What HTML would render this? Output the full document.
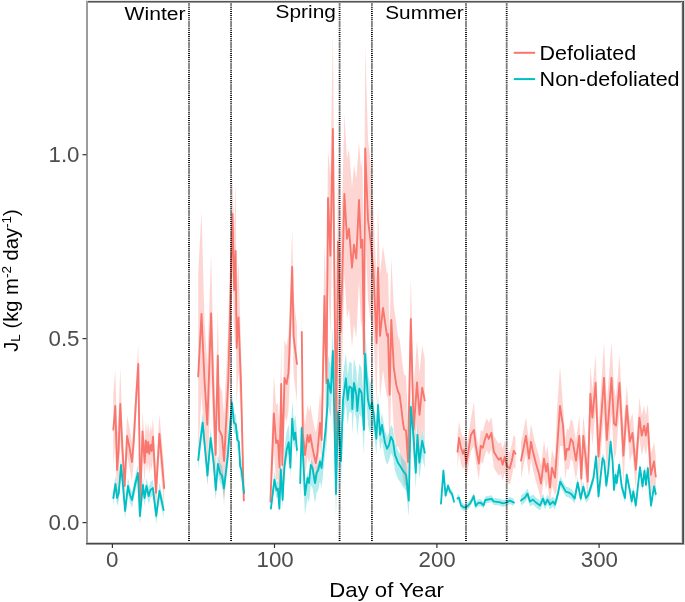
<!DOCTYPE html>
<html><head><meta charset="utf-8">
<style>
html,body{margin:0;padding:0;background:#fff;}
body{width:685px;height:602px;overflow:hidden;position:relative;}
svg{position:absolute;left:0;top:0;will-change:transform;}
text{font-family:"Liberation Sans",sans-serif;}
.dot{stroke:#000;stroke-width:1.8;stroke-dasharray:1 1.1;fill:none;}
.tk{fill:#4d4d4d;font-size:22.3px;}
</style></head><body>
<svg width="685" height="602" viewBox="0 0 685 602">
<g id="data">
<g fill="#F8766D" fill-opacity="0.3" stroke="none">
<polygon points="113.3,393.5 115.3,370.0 117.1,434.0 118.6,414.0 120.3,368.0 122.5,430.0 124.6,466.0 127.1,416.0 129.6,428.0 132.0,442.0 133.8,420.0 135.7,385.0 138.3,344.0 140.3,483.0 142.5,411.4 144.7,442.8 145.8,420.4 147.0,432.4 148.2,422.0 149.2,433.9 150.7,425.0 151.8,431.0 153.0,416.7 156.0,472.7 159.4,413.7 164.2,468.2 164.2,508.2 159.4,453.7 156.0,512.7 153.0,456.7 151.8,471.0 150.7,465.0 149.2,473.9 148.2,462.0 147.0,472.4 145.8,460.4 144.7,482.8 142.5,451.4 140.3,523.0 138.3,384.0 135.7,425.0 133.8,460.0 132.0,482.0 129.6,468.0 127.1,456.0 124.6,506.0 122.5,470.0 120.3,440.0 118.6,486.0 117.1,506.0 115.3,442.0 113.3,465.5"/>
<polygon points="198.2,273.4 201.5,211.0 204.5,320.0 207.3,364.6 211.1,253.3 213.2,342.0 215.6,409.8 217.8,310.6 219.2,385.0 222.0,391.0 224.1,416.0 228.3,325.0 232.5,174.0 234.2,235.0 235.6,181.0 236.6,293.0 238.5,262.4 241.0,345.0 243.8,475.4 243.8,508.4 241.0,415.0 238.5,372.4 236.6,403.0 235.6,306.0 234.2,345.0 232.5,269.0 228.3,435.0 224.1,506.0 222.0,481.0 219.2,475.0 217.8,400.6 215.6,499.8 213.2,432.0 211.1,373.3 207.3,484.6 204.5,440.0 201.5,394.0 198.2,456.4"/>
<polygon points="270.4,471.6 273.9,375.5 276.1,405.0 277.9,402.5 279.6,429.6 281.2,346.0 282.3,427.0 284.5,340.0 286.6,346.0 288.4,335.4 289.3,317.0 292.2,228.8 293.6,298.6 297.0,326.0 297.0,402.0 293.6,374.6 292.2,304.8 289.3,393.0 288.4,411.4 286.6,422.0 284.5,416.0 282.3,503.0 281.2,422.0 279.6,505.6 277.9,478.5 276.1,481.0 273.9,451.5 270.4,505.6"/>
<polygon points="301.8,302.0 302.8,403.0 305.0,425.0 307.5,405.0 309.0,412.0 310.3,405.0 312.5,418.0 314.0,425.0 315.8,433.0 317.4,423.0 320.0,393.0 321.6,410.0 324.5,246.0 326.5,303.0 328.0,150.0 330.4,175.7 332.9,31.0 336.2,392.0 337.9,161.7 340.6,252.0 342.2,200.0 344.4,114.0 347.0,158.7 349.0,148.8 352.0,187.6 354.0,164.7 356.3,178.6 359.0,142.0 361.0,167.7 362.3,159.7 364.0,274.0 365.2,45.4 368.0,140.0 370.3,158.7 373.3,206.3 376.6,281.0 378.0,205.7 380.0,273.9 383.0,246.0 387.0,273.9 388.0,272.0 389.6,332.8 391.3,258.0 393.8,306.0 396.3,323.0 398.0,336.5 399.6,339.8 401.3,353.0 403.0,368.0 404.2,374.7 406.0,375.5 408.0,420.0 410.8,277.0 413.7,387.7 417.0,340.4 419.5,372.8 422.2,345.6 424.8,358.6 424.8,440.6 422.2,427.6 419.5,454.8 417.0,422.4 413.7,469.7 410.8,359.0 408.0,502.0 406.0,485.5 404.2,484.7 403.0,478.0 401.3,463.0 399.6,449.8 398.0,446.5 396.3,447.0 393.8,430.0 391.3,382.0 389.6,456.8 388.0,396.0 387.0,397.9 383.0,370.0 380.0,397.9 378.0,329.7 376.6,405.0 373.3,330.3 370.3,318.7 368.0,300.0 365.2,228.4 364.0,434.0 362.3,319.7 361.0,327.7 359.0,280.0 356.3,338.6 354.0,324.7 352.0,347.6 349.0,308.8 347.0,318.7 344.4,274.0 342.2,360.0 340.6,412.0 337.9,321.7 336.2,462.0 332.9,209.0 330.4,335.7 328.0,278.0 326.5,463.0 324.5,346.0 321.6,462.0 320.0,445.0 317.4,475.0 315.8,485.0 314.0,477.0 312.5,470.0 310.3,457.0 309.0,464.0 307.5,457.0 305.0,477.0 302.8,455.0 301.8,354.0"/>
<polygon points="457.5,435.8 459.0,421.8 461.0,431.8 463.0,437.8 464.3,433.8 466.3,447.7 468.0,437.8 470.9,418.9 473.9,401.9 475.8,429.8 478.8,447.7 480.8,429.8 482.8,431.8 484.8,423.8 486.8,417.9 488.8,422.8 491.4,416.9 493.8,435.8 496.8,440.8 498.8,443.8 500.8,441.8 502.7,448.7 504.7,440.8 506.7,449.7 509.7,452.7 512.0,443.8 513.7,434.8 515.5,437.8 515.5,469.8 513.7,466.8 512.0,475.8 509.7,484.7 506.7,481.7 504.7,472.8 502.7,480.7 500.8,473.8 498.8,475.8 496.8,472.8 493.8,467.8 491.4,448.9 488.8,454.8 486.8,449.9 484.8,455.8 482.8,463.8 480.8,461.8 478.8,479.7 475.8,461.8 473.9,445.9 470.9,450.9 468.0,469.8 466.3,479.7 464.3,465.8 463.0,469.8 461.0,463.8 459.0,453.8 457.5,467.8"/>
<polygon points="521.0,442.7 523.6,429.8 526.0,417.8 529.0,440.7 531.0,423.8 533.0,433.8 536.0,445.7 539.0,455.7 541.0,465.6 544.0,440.7 546.0,453.7 547.5,445.7 550.0,469.6 552.0,449.7 555.0,459.6 557.0,409.8 560.0,366.0 563.0,405.9 565.4,439.7 566.8,428.8 568.8,429.8 570.8,418.8 572.8,421.8 576.0,440.7 579.3,415.8 581.3,458.6 583.3,415.8 585.7,437.7 587.7,461.6 590.4,365.7 592.4,389.6 595.6,354.8 598.5,428.5 604.0,341.8 606.8,404.0 611.5,341.8 614.0,387.6 616.0,397.6 619.5,354.8 623.4,427.7 626.8,385.7 629.8,421.6 632.5,413.0 635.8,449.8 639.4,397.6 641.8,415.6 644.2,405.6 645.8,415.6 647.8,403.6 650.8,454.8 654.0,441.5 655.8,456.5 655.8,496.5 654.0,481.5 650.8,494.8 647.8,443.6 645.8,455.6 644.2,445.6 641.8,455.6 639.4,437.6 635.8,489.8 632.5,453.0 629.8,461.6 626.8,425.7 623.4,483.7 619.5,410.8 616.0,453.6 614.0,459.6 611.5,413.8 606.8,476.0 604.0,413.8 598.5,484.5 595.6,410.8 592.4,445.6 590.4,421.7 587.7,501.6 585.7,477.7 583.3,455.8 581.3,498.6 579.3,455.8 576.0,480.7 572.8,461.8 570.8,458.8 568.8,469.8 566.8,468.8 565.4,479.7 563.0,445.9 560.0,446.0 557.0,489.8 555.0,495.6 552.0,485.7 550.0,505.6 547.5,481.7 546.0,489.7 544.0,476.7 541.0,501.6 539.0,491.7 536.0,481.7 533.0,469.8 531.0,459.8 529.0,476.7 526.0,453.8 523.6,465.8 521.0,478.7"/>
</g>
<g fill="#00BFC4" fill-opacity="0.3" stroke="none">
<polygon points="113.3,490.0 115.5,476.0 117.1,490.0 118.8,485.0 121.0,457.0 123.0,478.0 125.1,503.0 128.0,478.0 130.0,487.0 132.0,492.0 135.0,477.0 137.9,465.0 139.9,508.0 142.9,477.0 144.5,490.0 146.5,478.0 148.7,488.0 150.5,482.0 152.9,480.0 156.2,508.0 159.5,483.0 163.6,502.0 163.6,518.0 159.5,499.0 156.2,524.0 152.9,496.0 150.5,498.0 148.7,504.0 146.5,494.0 144.5,506.0 142.9,493.0 139.9,524.0 137.9,481.0 135.0,493.0 132.0,508.0 130.0,503.0 128.0,494.0 125.1,519.0 123.0,494.0 121.0,473.0 118.8,501.0 117.1,506.0 115.5,492.0 113.3,506.0"/>
<polygon points="198.2,450.0 200.2,432.3 202.7,412.6 204.4,432.0 207.5,465.5 210.6,428.0 213.7,453.0 215.8,480.0 217.9,454.0 220.0,463.0 222.0,465.5 224.0,478.5 227.7,447.0 230.6,408.7 232.0,393.0 233.9,412.5 235.8,414.4 237.3,429.7 238.8,431.6 240.2,456.5 241.5,460.0 244.0,483.0 244.0,503.0 241.5,480.0 240.2,476.5 238.8,451.6 237.3,449.7 235.8,434.4 233.9,432.5 232.0,413.0 230.6,428.7 227.7,467.0 224.0,498.5 222.0,485.5 220.0,483.0 217.9,474.0 215.8,500.0 213.7,473.0 210.6,448.0 207.5,485.5 204.4,452.0 202.7,432.6 200.2,452.3 198.2,470.0"/>
<polygon points="270.9,502.6 274.4,471.8 276.5,482.3 277.9,480.5 279.4,498.6 280.8,461.3 282.6,491.9 284.3,449.6 286.6,432.0 288.7,424.3 290.4,449.6 292.2,400.7 293.9,421.7 295.3,414.7 297.0,432.0 297.0,460.0 295.3,442.7 293.9,449.7 292.2,428.7 290.4,477.6 288.7,452.3 286.6,460.0 284.3,477.6 282.6,507.9 280.8,477.3 279.4,512.6 277.9,496.5 276.5,498.3 274.4,487.8 270.9,511.6"/>
<polygon points="300.2,477.0 301.7,422.0 305.0,489.0 307.5,472.0 309.0,477.0 310.8,459.0 312.5,462.0 315.0,477.0 316.6,467.0 318.3,464.0 320.0,455.5 321.6,462.0 324.0,439.0 325.7,422.0 327.4,381.6 327.9,354.4 330.8,367.8 332.9,325.9 336.0,469.0 338.0,387.0 341.0,436.0 343.0,375.0 345.9,353.3 347.7,375.0 349.4,361.4 351.7,363.0 352.3,384.0 354.0,358.0 356.4,370.0 357.3,386.0 359.3,363.7 361.6,368.0 364.0,404.8 365.1,328.8 368.0,375.0 370.0,384.0 372.0,378.0 374.0,405.0 376.4,426.8 378.0,393.0 380.0,422.8 382.0,413.0 385.0,430.8 387.0,436.8 389.0,432.8 391.0,424.8 393.0,428.8 395.0,442.8 398.0,450.7 400.0,453.7 403.0,458.7 406.0,462.7 408.8,488.6 410.8,395.0 413.4,422.8 415.8,460.7 417.4,422.8 419.4,450.7 422.2,428.8 424.8,440.8 424.8,468.8 422.2,456.8 419.4,478.7 417.4,450.8 415.8,488.7 413.4,450.8 410.8,423.0 408.8,516.6 406.0,490.7 403.0,486.7 400.0,481.7 398.0,478.7 395.0,470.8 393.0,456.8 391.0,452.8 389.0,460.8 387.0,464.8 385.0,458.8 382.0,441.0 380.0,450.8 378.0,421.0 376.4,454.8 374.0,433.0 372.0,428.0 370.0,434.0 368.0,425.0 365.1,378.8 364.0,454.8 361.6,418.0 359.3,413.7 357.3,436.0 356.4,420.0 354.0,408.0 352.3,434.0 351.7,413.0 349.4,411.4 347.7,425.0 345.9,403.3 343.0,425.0 341.0,486.0 338.0,437.0 336.0,519.0 332.9,375.9 330.8,417.8 327.9,404.4 327.4,431.6 325.7,448.0 324.0,465.0 321.6,488.0 320.0,481.5 318.3,490.0 316.6,493.0 315.0,503.0 312.5,488.0 310.8,485.0 309.0,503.0 307.5,498.0 305.0,515.0 301.7,448.0 300.2,503.0"/>
<polygon points="441.0,500.1 443.4,467.2 445.6,492.1 448.0,482.2 450.0,488.1 452.0,490.1 454.0,498.1 454.0,505.1 452.0,497.1 450.0,495.1 448.0,489.2 445.6,499.1 443.4,474.2 441.0,507.1"/>
<polygon points="457.5,495.1 459.0,494.1 461.0,502.1 464.0,504.1 467.0,503.1 470.0,500.1 472.0,496.5 473.7,492.5 475.7,502.5 478.0,499.5 480.7,499.2 483.6,501.8 485.3,496.5 491.5,495.3 493.7,497.9 497.0,498.3 500.0,498.8 503.0,499.9 506.0,499.1 510.0,497.1 514.0,499.1 514.0,506.1 510.0,504.1 506.0,506.1 503.0,506.9 500.0,505.8 497.0,505.3 493.7,504.9 491.5,502.3 485.3,503.5 483.6,508.8 480.7,506.2 478.0,506.5 475.7,509.5 473.7,499.5 472.0,503.5 470.0,507.1 467.0,510.1 464.0,511.1 461.0,509.1 459.0,501.1 457.5,502.1"/>
<polygon points="521.0,495.6 525.0,492.6 527.5,488.6 530.0,496.6 533.0,494.6 536.0,497.6 540.0,500.5 543.0,493.6 545.0,499.5 547.5,494.6 550.0,499.5 553.0,496.6 555.0,499.5 558.0,488.6 560.2,476.6 563.0,481.6 565.8,486.6 568.8,487.6 571.8,489.6 574.7,493.6 577.7,477.6 580.7,493.6 583.3,481.6 586.0,493.0 588.5,489.8 591.0,481.4 593.5,473.0 596.0,451.5 598.5,491.4 601.0,468.2 602.6,453.2 604.3,456.5 606.3,480.6 608.4,464.8 610.6,436.6 612.6,456.5 614.0,484.8 615.6,469.8 616.7,478.0 619.2,459.8 621.7,481.4 625.0,493.0 626.7,469.8 630.0,486.4 631.7,496.4 633.3,486.4 635.8,500.5 640.0,462.3 642.5,481.4 644.5,465.7 646.0,479.8 647.8,463.2 651.0,500.5 654.0,481.4 655.8,489.0 655.8,499.0 654.0,491.4 651.0,510.5 647.8,473.2 646.0,489.8 644.5,475.7 642.5,491.4 640.0,472.3 635.8,510.5 633.3,496.4 631.7,506.4 630.0,496.4 626.7,479.8 625.0,503.0 621.7,491.4 619.2,469.8 616.7,488.0 615.6,479.8 614.0,494.8 612.6,466.5 610.6,446.6 608.4,474.8 606.3,490.6 604.3,466.5 602.6,463.2 601.0,478.2 598.5,501.4 596.0,461.5 593.5,483.0 591.0,491.4 588.5,499.8 586.0,503.0 583.3,491.6 580.7,503.6 577.7,487.6 574.7,503.6 571.8,499.6 568.8,497.6 565.8,496.6 563.0,491.6 560.2,486.6 558.0,498.6 555.0,509.5 553.0,506.6 550.0,509.5 547.5,504.6 545.0,509.5 543.0,503.6 540.0,510.5 536.0,507.6 533.0,504.6 530.0,506.6 527.5,498.6 525.0,502.6 521.0,505.6"/>
</g>
<g fill="none" stroke="#F8766D" stroke-width="1.85" stroke-linejoin="round" stroke-linecap="round">
<polyline points="113.3,429.5 115.3,406.0 117.1,470.0 118.6,450.0 120.3,404.0 122.5,450.0 124.6,486.0 127.1,436.0 129.6,448.0 132.0,462.0 133.8,440.0 135.7,405.0 138.3,364.0 140.3,503.0 142.5,431.4 144.7,462.8 145.8,440.4 147.0,452.4 148.2,442.0 149.2,453.9 150.7,445.0 151.8,451.0 153.0,436.7 156.0,492.7 159.4,433.7 164.2,488.2"/>
<polyline points="198.2,376.4 201.5,314.0 204.5,380.0 207.3,424.6 211.1,313.3 213.2,387.0 215.6,454.8 217.8,355.6 219.2,430.0 222.0,436.0 224.1,461.0 228.3,380.0 232.5,214.0 234.2,290.0 235.6,251.0 236.6,348.0 238.5,317.4 241.0,385.0 243.8,500.4"/>
<polyline points="270.4,501.6 273.9,413.5 276.1,443.0 277.9,440.5 279.6,467.6 281.2,384.0 282.3,465.0 284.5,378.0 286.6,384.0 288.4,373.4 289.3,355.0 292.2,266.8 293.6,336.6 297.0,364.0"/>
<polyline points="301.8,332.0 302.8,433.0 305.0,455.0 307.5,435.0 309.0,442.0 310.3,435.0 312.5,448.0 314.0,455.0 315.8,463.0 317.4,453.0 320.0,423.0 321.6,440.0 324.5,296.0 326.5,383.0 328.0,198.0 330.4,255.7 332.9,129.0 336.2,452.0 337.9,241.7 340.6,332.0 342.2,280.0 344.4,194.0 347.0,238.7 349.0,228.8 352.0,267.6 354.0,244.7 356.3,258.6 359.0,200.0 361.0,247.7 362.3,239.7 364.0,354.0 365.2,148.4 368.0,220.0 370.3,238.7 373.3,268.3 376.6,343.0 378.0,267.7 380.0,335.9 383.0,308.0 387.0,335.9 388.0,334.0 389.6,394.8 391.3,320.0 393.8,368.0 396.3,385.0 398.0,391.5 399.6,394.8 401.3,408.0 403.0,423.0 404.2,429.7 406.0,430.5 408.0,462.0 410.8,319.0 413.7,429.7 417.0,382.4 419.5,414.8 422.2,387.6 424.8,400.6"/>
<polyline points="457.5,451.8 459.0,437.8 461.0,447.8 463.0,453.8 464.3,449.8 466.3,463.7 468.0,453.8 470.9,434.9 473.9,429.9 475.8,445.8 478.8,463.7 480.8,445.8 482.8,447.8 484.8,439.8 486.8,433.9 488.8,438.8 491.4,432.9 493.8,451.8 496.8,456.8 498.8,459.8 500.8,457.8 502.7,464.7 504.7,456.8 506.7,465.7 509.7,468.7 512.0,459.8 513.7,450.8 515.5,453.8"/>
<polyline points="521.0,460.7 523.6,447.8 526.0,435.8 529.0,458.7 531.0,441.8 533.0,451.8 536.0,463.7 539.0,473.7 541.0,483.6 544.0,458.7 546.0,471.7 547.5,463.7 550.0,487.6 552.0,467.7 555.0,477.6 557.0,449.8 560.0,406.0 563.0,425.9 565.4,459.7 566.8,448.8 568.8,449.8 570.8,438.8 572.8,441.8 576.0,460.7 579.3,435.8 581.3,478.6 583.3,435.8 585.7,457.7 587.7,481.6 590.4,393.7 592.4,417.6 595.6,382.8 598.5,456.5 604.0,377.8 606.8,440.0 611.5,377.8 614.0,423.6 616.0,425.6 619.5,382.8 623.4,455.7 626.8,405.7 629.8,441.6 632.5,433.0 635.8,469.8 639.4,417.6 641.8,435.6 644.2,425.6 645.8,435.6 647.8,423.6 650.8,474.8 654.0,461.5 655.8,476.5"/>
</g>
<g fill="none" stroke="#00BFC4" stroke-width="1.85" stroke-linejoin="round" stroke-linecap="round">
<polyline points="113.3,498.0 115.5,484.0 117.1,498.0 118.8,493.0 121.0,465.0 123.0,486.0 125.1,511.0 128.0,486.0 130.0,495.0 132.0,500.0 135.0,485.0 137.9,473.0 139.9,516.0 142.9,485.0 144.5,498.0 146.5,486.0 148.7,496.0 150.5,490.0 152.9,488.0 156.2,516.0 159.5,491.0 163.6,510.0"/>
<polyline points="198.2,460.0 200.2,442.3 202.7,422.6 204.4,442.0 207.5,475.5 210.6,438.0 213.7,463.0 215.8,490.0 217.9,464.0 220.0,473.0 222.0,475.5 224.0,488.5 227.7,457.0 230.6,418.7 232.0,403.0 233.9,422.5 235.8,424.4 237.3,439.7 238.8,441.6 240.2,466.5 241.5,470.0 244.0,493.0"/>
<polyline points="270.9,508.6 274.4,479.8 276.5,490.3 277.9,488.5 279.4,508.6 280.8,469.3 282.6,499.9 284.3,467.6 286.6,450.0 288.7,442.3 290.4,467.6 292.2,418.7 293.9,439.7 295.3,432.7 297.0,450.0"/>
<polyline points="300.2,483.0 301.7,428.0 305.0,495.0 307.5,478.0 309.0,483.0 310.8,465.0 312.5,468.0 315.0,483.0 316.6,473.0 318.3,470.0 320.0,461.5 321.6,468.0 324.0,445.0 325.7,428.0 327.4,406.6 327.9,379.4 330.8,392.8 332.9,350.9 336.0,494.0 338.0,412.0 341.0,461.0 343.0,400.0 345.9,378.3 347.7,400.0 349.4,386.4 351.7,388.0 352.3,409.0 354.0,383.0 356.4,395.0 357.3,411.0 359.3,388.7 361.6,393.0 364.0,429.8 365.1,353.8 368.0,400.0 370.0,409.0 372.0,403.0 374.0,417.0 376.4,438.8 378.0,405.0 380.0,434.8 382.0,425.0 385.0,442.8 387.0,448.8 389.0,444.8 391.0,436.8 393.0,440.8 395.0,454.8 398.0,462.7 400.0,465.7 403.0,470.7 406.0,474.7 408.8,500.6 410.8,407.0 413.4,434.8 415.8,472.7 417.4,434.8 419.4,462.7 422.2,440.8 424.8,452.8"/>
<polyline points="441.0,503.6 443.4,470.7 445.6,495.6 448.0,485.7 450.0,491.6 452.0,493.6 454.0,501.6"/>
<polyline points="457.5,498.6 459.0,497.6 461.0,505.6 464.0,507.6 467.0,506.6 470.0,503.6 472.0,500.0 473.7,496.0 475.7,506.0 478.0,503.0 480.7,502.7 483.6,505.3 485.3,500.0 491.5,498.8 493.7,501.4 497.0,501.8 500.0,502.3 503.0,503.4 506.0,502.6 510.0,500.6 514.0,502.6"/>
<polyline points="521.0,500.6 525.0,497.6 527.5,493.6 530.0,501.6 533.0,499.6 536.0,502.6 540.0,505.5 543.0,498.6 545.0,504.5 547.5,499.6 550.0,504.5 553.0,501.6 555.0,504.5 558.0,493.6 560.2,481.6 563.0,486.6 565.8,491.6 568.8,492.6 571.8,494.6 574.7,498.6 577.7,482.6 580.7,498.6 583.3,486.6 586.0,498.0 588.5,494.8 591.0,486.4 593.5,478.0 596.0,456.5 598.5,496.4 601.0,473.2 602.6,458.2 604.3,461.5 606.3,485.6 608.4,469.8 610.6,441.6 612.6,461.5 614.0,489.8 615.6,474.8 616.7,483.0 619.2,464.8 621.7,486.4 625.0,498.0 626.7,474.8 630.0,491.4 631.7,501.4 633.3,491.4 635.8,505.5 640.0,467.3 642.5,486.4 644.5,470.7 646.0,484.8 647.8,468.2 651.0,505.5 654.0,486.4 655.8,494.0"/>
</g>
</g>
<line x1="189.0" y1="2.5" x2="189.0" y2="542.5" class="dot"/>
<line x1="231.05" y1="2.5" x2="231.05" y2="542.5" class="dot"/>
<line x1="339.6" y1="2.5" x2="339.6" y2="542.5" class="dot"/>
<line x1="371.9" y1="2.5" x2="371.9" y2="542.5" class="dot"/>
<line x1="466.0" y1="2.5" x2="466.0" y2="542.5" class="dot"/>
<line x1="506.7" y1="2.5" x2="506.7" y2="542.5" class="dot"/>
<!-- panel border -->
<g shape-rendering="crispEdges">
<rect x="86" y="0" width="599" height="1" fill="#e8e8e8"/>
<rect x="86" y="1" width="598" height="1" fill="#555"/>
<rect x="87" y="2" width="595" height="1" fill="#999"/>
<rect x="86" y="1" width="2" height="543" fill="#9c9c9c"/>
<rect x="681" y="2" width="1" height="541" fill="#ddd"/>
<rect x="682" y="1" width="1" height="543" fill="#666"/>
<rect x="683" y="1" width="1" height="543" fill="#4a4a4a"/>
<rect x="684" y="0" width="1" height="545" fill="#d8d8d8"/>
<rect x="88" y="542" width="593" height="1" fill="#ccc"/>
<rect x="86" y="543" width="598" height="1" fill="#4a4a4a"/>
<rect x="86" y="544" width="598" height="1" fill="#999"/>
</g>
<!-- ticks -->
<g stroke="#333" stroke-width="1.2">
<line x1="82.5" y1="154.7" x2="86.5" y2="154.7"/>
<line x1="82.5" y1="338.6" x2="86.5" y2="338.6"/>
<line x1="82.5" y1="522.6" x2="86.5" y2="522.6"/>
<line x1="112.4" y1="544" x2="112.4" y2="548"/>
<line x1="274.5" y1="544" x2="274.5" y2="548"/>
<line x1="436.9" y1="544" x2="436.9" y2="548"/>
<line x1="599.1" y1="544" x2="599.1" y2="548"/>
</g>
<g class="tk">
<text x="79.5" y="162.3" text-anchor="end" class="tk">1.0</text>
<text x="79.5" y="346.2" text-anchor="end" class="tk">0.5</text>
<text x="79.5" y="530.2" text-anchor="end" class="tk">0.0</text>
<text x="112.2" y="566.9" text-anchor="middle" class="tk">0</text>
<text x="275.1" y="566.9" text-anchor="middle" class="tk">100</text>
<text x="437.1" y="566.9" text-anchor="middle" class="tk">200</text>
<text x="599.4" y="566.9" text-anchor="middle" class="tk">300</text>
</g>
<!-- season labels -->
<g fill="#000" font-size="18px">
<text x="124.6" y="19.8" textLength="61" lengthAdjust="spacingAndGlyphs">Winter</text>
<text x="275.6" y="18.4" textLength="60.2" lengthAdjust="spacingAndGlyphs">Spring</text>
<text x="385.2" y="18.5" textLength="78.6" lengthAdjust="spacingAndGlyphs">Summer</text>
</g>
<!-- legend -->
<line x1="513.8" y1="52.8" x2="535.1" y2="52.8" stroke="#F8766D" stroke-width="2"/>
<line x1="513.8" y1="79.1" x2="535.1" y2="79.1" stroke="#00BFC4" stroke-width="2"/>
<g fill="#000" font-size="21px">
<text x="539.6" y="59.9" textLength="96.6" lengthAdjust="spacingAndGlyphs">Defoliated</text>
<text x="539.6" y="85.6" textLength="140.0" lengthAdjust="spacingAndGlyphs">Non-defoliated</text>
</g>
<!-- axis titles -->
<text x="386.6" y="596.5" text-anchor="middle" font-size="21px" fill="#000" textLength="114.6" lengthAdjust="spacingAndGlyphs">Day of Year</text>
<text transform="translate(17.6,351.8) rotate(-90)" font-size="20.2px" fill="#000">J<tspan font-size="13.5px" dy="2">L</tspan><tspan dy="-2"> (kg m</tspan><tspan font-size="13.5px" dy="-7">-2</tspan><tspan dy="7"> day</tspan><tspan font-size="13.5px" dy="-7">-1</tspan><tspan dy="7">)</tspan></text>
</svg>
</body></html>
